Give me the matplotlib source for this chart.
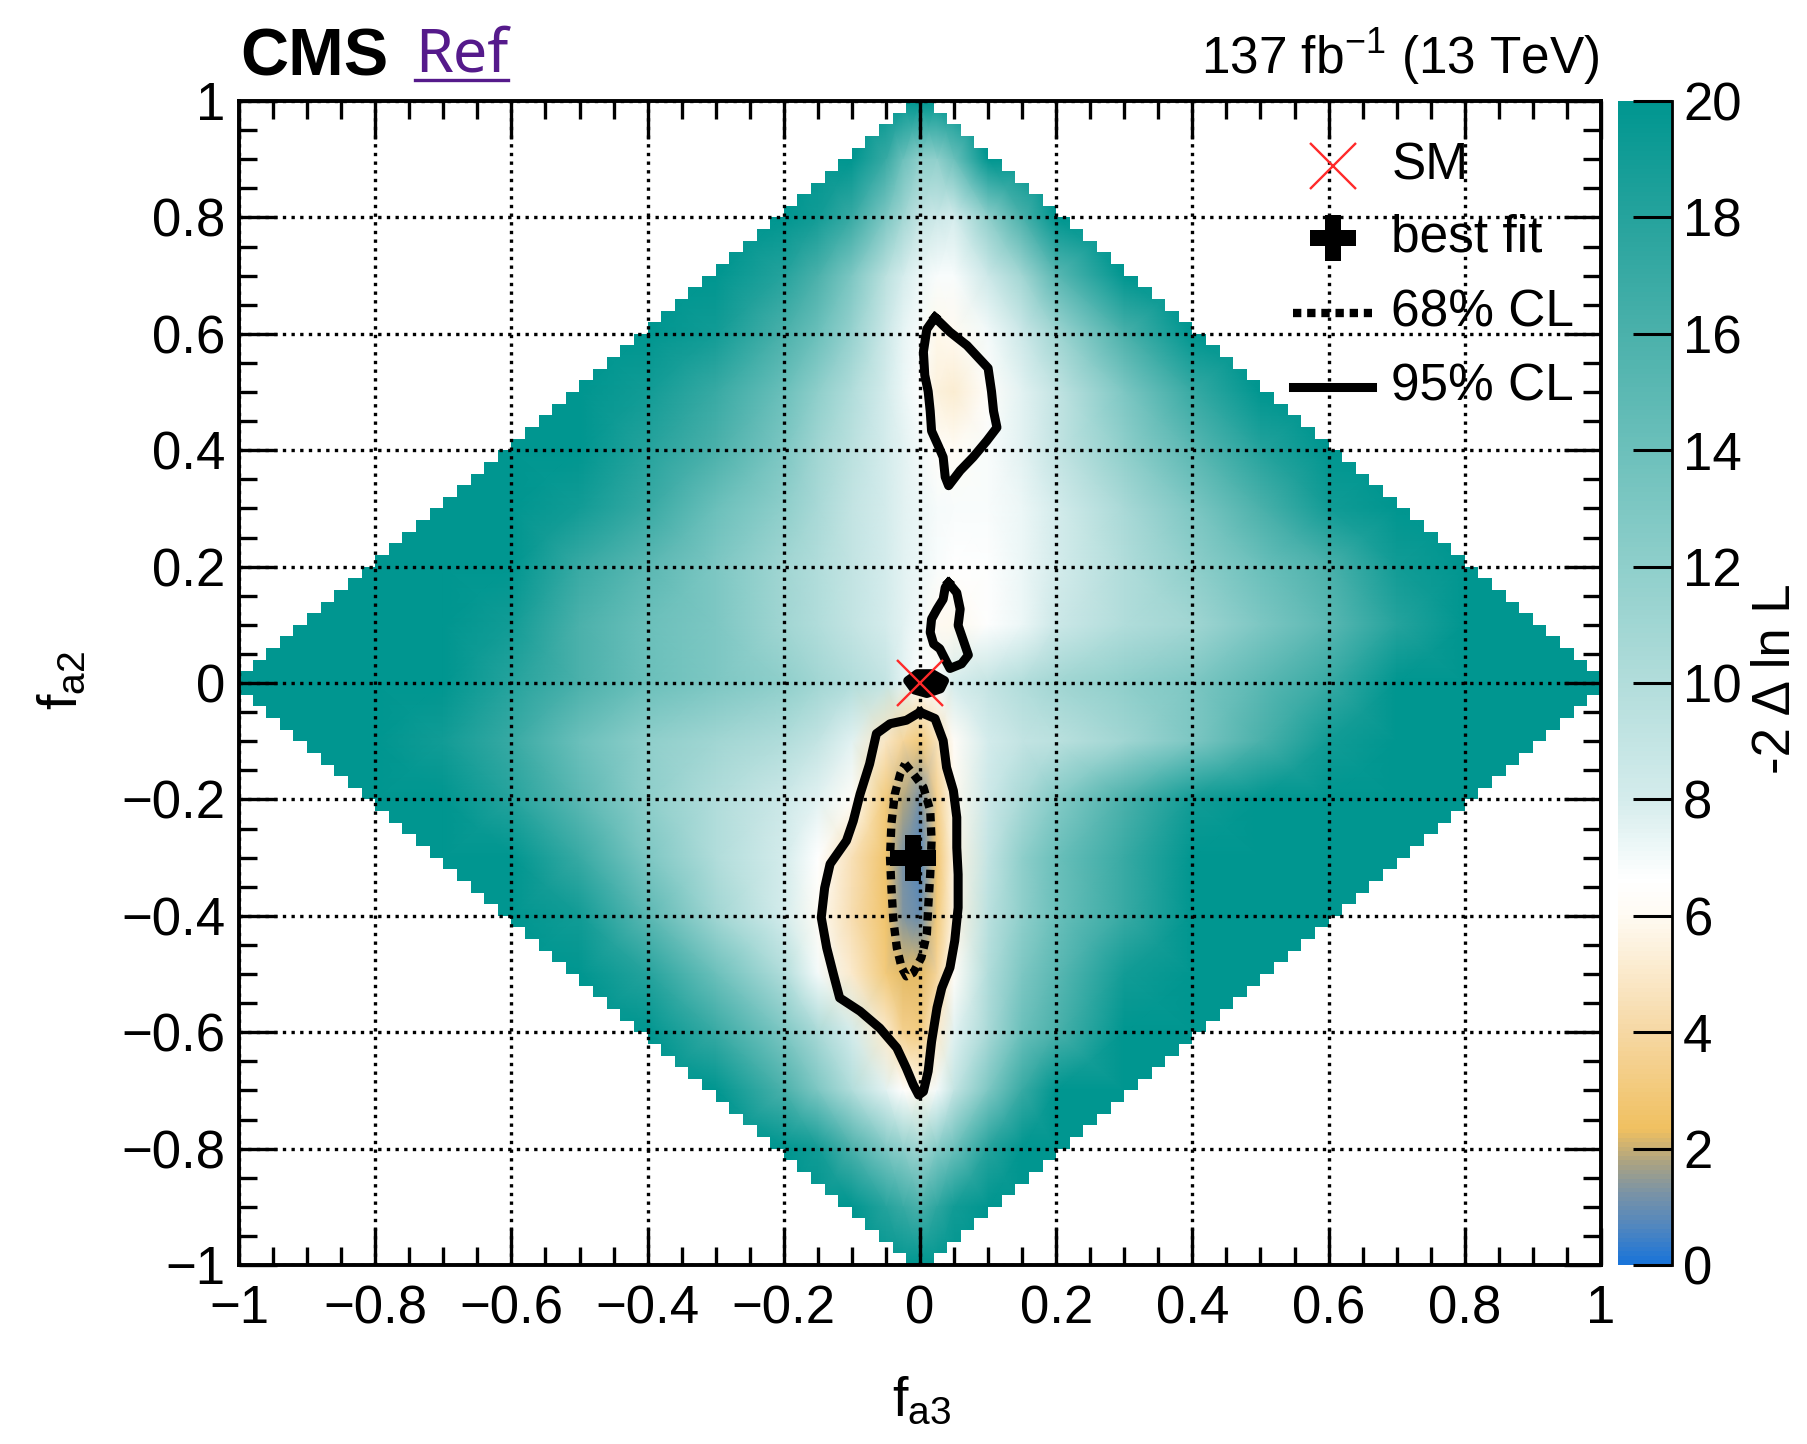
import numpy as np
import matplotlib
matplotlib.use("Agg")
import matplotlib.pyplot as plt
from matplotlib.colors import LinearSegmentedColormap, Normalize
from matplotlib.lines import Line2D
from matplotlib.ticker import MultipleLocator, FuncFormatter

plt.rcParams['font.family'] = ['Liberation Sans', 'DejaVu Sans']
plt.rcParams['mathtext.fontset'] = 'custom'
plt.rcParams['mathtext.rm'] = 'Liberation Sans'
plt.rcParams['mathtext.it'] = 'Liberation Sans:italic'
plt.rcParams['mathtext.bf'] = 'Liberation Sans:bold'

# ---------------- data ----------------
fa3_nodes = [-1.0, -0.9, -0.8, -0.7, -0.6, -0.5, -0.4, -0.3, -0.2, -0.15, -0.1, -0.05, -0.025,
             0.0, 0.025, 0.05, 0.1, 0.15, 0.2, 0.3, 0.4, 0.5, 0.6, 0.7, 0.8, 0.9, 1.0]
fa2_nodes = [1.0, 0.9, 0.8, 0.7, 0.6, 0.5, 0.4, 0.3, 0.2, 0.1, 0.0,
             -0.1, -0.2, -0.3, -0.4, -0.5, -0.6, -0.7, -0.8, -0.9, -1.0]

# -2 Delta ln L (20 = saturated), one list per fa2 row
row_p10 = [20, 20, 20, 20, 20, 20, 20, 20, 20, 20, 20, 20, 20, 20, 20, 20, 20, 20, 20, 20, 20, 20, 20, 20, 20, 20, 20]
row_p09 = [20, 20, 20, 20, 20, 20, 20, 20, 20, 20, 20, 17, 14, 12, 12, 14, 20, 20, 20, 20, 20, 20, 20, 20, 20, 20, 20]
row_p08 = [20, 20, 20, 20, 20, 20, 20, 20, 20, 19, 17, 13, 11, 9, 8.5, 8, 12, 16, 20, 20, 20, 20, 20, 20, 20, 20, 20]
row_p07 = [20, 20, 20, 20, 20, 20, 20, 20, 18, 16, 13, 9.5, 8, 7.2, 6.8, 6.8, 8.5, 11, 15, 20, 20, 20, 20, 20, 20, 20, 20]
row_p06 = [20, 20, 20, 20, 20, 20, 20, 19, 16, 14, 11.5, 8.5, 7.4, 6.8, 5.8, 6.0, 7.0, 8.5, 11, 16, 20, 20, 20, 20, 20, 20, 20]
row_p05 = [20, 20, 20, 20, 20, 20, 19, 17, 14, 12, 10, 8, 7.3, 6.7, 5.4, 5.2, 6.4, 7.5, 9, 13, 17, 20, 20, 20, 20, 20, 20]
row_p04 = [20, 20, 20, 20, 20, 20, 18, 16, 13, 11, 9.5, 8, 7.5, 7, 6.4, 6.1, 6.8, 7.5, 9, 12, 15, 18, 20, 20, 20, 20, 20]
row_p03 = [20, 20, 20, 20, 20, 19, 17, 14, 12, 10.5, 9, 8, 7.5, 7.2, 6.9, 6.8, 6.8, 7.2, 8, 10.5, 13, 16, 19, 20, 20, 20, 20]
row_p02 = [20, 20, 20, 20, 20, 17, 15, 13, 11, 10, 9, 8, 7.5, 7.2, 6.8, 6.6, 6.7, 7.2, 8, 10, 12, 14, 16, 19, 20, 20, 20]
row_p01 = [20, 20, 20, 20, 19, 16, 14, 13, 11, 10, 9, 8, 7.5, 7, 6.0, 5.9, 6.7, 7.2, 8.5, 10, 11, 13, 15, 18, 20, 20, 20]
row_000 = [20, 20, 20, 20, 18, 16, 14, 13, 12, 11, 10, 9, 7.5, 6.5, 6.8, 8, 9, 10, 11, 12, 13, 15, 17, 20, 20, 20, 20]
row_m01 = [20, 20, 20, 19, 17, 14, 12, 11, 10, 9, 7.5, 4.8, 3.8, 3.0, 4.6, 6.2, 8, 9, 9.5, 11, 13, 16, 19, 20, 20, 20, 20]
row_m02 = [20, 20, 20, 20, 18, 15, 12, 10, 8.5, 7.5, 6.3, 3.0, 1.8, 1.2, 3.5, 5.9, 8.5, 10.5, 12.5, 16, 19, 20, 20, 20, 20, 20, 20]
row_m03 = [20, 20, 20, 20, 20, 17, 13, 10, 8, 6.6, 4.5, 2.6, 1.2, 0.7, 2.8, 5.6, 9, 12, 14, 17, 20, 20, 20, 20, 20, 20, 20]
row_m04 = [20, 20, 20, 20, 20, 19, 15, 11, 8, 6.1, 4.3, 2.6, 1.3, 1.0, 3.0, 5.6, 9.5, 12, 14, 17, 20, 20, 20, 20, 20, 20, 20]
row_m05 = [20, 20, 20, 20, 20, 20, 18, 14, 10, 7, 5, 3.0, 2.2, 2.2, 3.8, 6.3, 10, 13, 15, 19, 20, 20, 20, 20, 20, 20, 20]
row_m06 = [20, 20, 20, 20, 20, 20, 20, 17, 13, 10.5, 8, 5.0, 3.5, 3.2, 5.0, 7.5, 10.5, 14, 16, 20, 20, 20, 20, 20, 20, 20, 20]
row_m07 = [20, 20, 20, 20, 20, 20, 20, 20, 16, 13, 10, 7.5, 6.5, 5.8, 7.0, 9, 13, 17, 20, 20, 20, 20, 20, 20, 20, 20, 20]
row_m08 = [20, 20, 20, 20, 20, 20, 20, 20, 20, 19, 16, 13, 12, 11, 12.5, 14, 18, 20, 20, 20, 20, 20, 20, 20, 20, 20, 20]
row_m09 = [20, 20, 20, 20, 20, 20, 20, 20, 20, 20, 20, 18, 17, 16, 17.5, 19, 20, 20, 20, 20, 20, 20, 20, 20, 20, 20, 20]
row_m10 = [20, 20, 20, 20, 20, 20, 20, 20, 20, 20, 20, 20, 20, 20, 20, 20, 20, 20, 20, 20, 20, 20, 20, 20, 20, 20, 20]

# 95% CL contours (closed outlines)
cl95_main_x = [0.000, 0.022, 0.034, 0.039, 0.049, 0.054, 0.054, 0.056, 0.056, 0.051, 0.044, 0.032,
               0.025, 0.017, 0.012, 0.005, -0.002, -0.010, -0.020, -0.034, -0.059, -0.088, -0.118,
               -0.127, -0.137, -0.145, -0.140, -0.132, -0.108, -0.098, -0.088, -0.074, -0.064,
               -0.044, -0.020]
cl95_main_y = [-0.050, -0.061, -0.099, -0.145, -0.185, -0.231, -0.283, -0.329, -0.386, -0.443,
               -0.489, -0.524, -0.558, -0.616, -0.667, -0.702, -0.708, -0.690, -0.662, -0.627,
               -0.593, -0.564, -0.541, -0.501, -0.455, -0.403, -0.352, -0.311, -0.271, -0.237,
               -0.191, -0.139, -0.087, -0.070, -0.064]
cl95_up_x = [0.022, 0.044, 0.069, 0.100, 0.105, 0.108, 0.113, 0.098, 0.078, 0.059, 0.042, 0.037,
             0.034, 0.027, 0.017, 0.015, 0.012, 0.007, 0.005, 0.010]
cl95_up_y = [0.628, 0.603, 0.580, 0.541, 0.501, 0.467, 0.439, 0.416, 0.388, 0.365, 0.339, 0.354,
             0.388, 0.407, 0.433, 0.467, 0.501, 0.529, 0.569, 0.608]
cl95_mid_x = [0.042, 0.054, 0.059, 0.056, 0.061, 0.066, 0.071, 0.061, 0.044, 0.039, 0.029, 0.020,
              0.015, 0.017, 0.025, 0.034, 0.037]
cl95_mid_y = [0.172, 0.155, 0.127, 0.099, 0.082, 0.065, 0.048, 0.033, 0.025, 0.036, 0.059, 0.067,
              0.087, 0.110, 0.127, 0.144, 0.164]
cl95_sm_x = [-0.018, -0.004, 0.018, 0.036, 0.030, 0.010, -0.008]
cl95_sm_y = [0.004, 0.016, 0.016, 0.004, -0.010, -0.018, -0.012]

# 68% CL contour
cl68_x = [-0.022, -0.010, 0.005, 0.015, 0.017, 0.015, 0.012, 0.010, 0.002, -0.010, -0.020,
          -0.027, -0.034, -0.039, -0.042, -0.044, -0.042, -0.037, -0.029]
cl68_y = [-0.139, -0.156, -0.179, -0.219, -0.271, -0.329, -0.386, -0.432, -0.472, -0.498, -0.504,
          -0.489, -0.455, -0.409, -0.352, -0.300, -0.242, -0.191, -0.156]

sm_point = (0.0, 0.0)
best_fit = (-0.01, -0.30)

cbar_ticks = [0, 2, 4, 6, 8, 10, 12, 14, 16, 18, 20]

# ---------------- style ----------------
W, H = 1808, 1444
fig = plt.figure(figsize=(W / 100, H / 100), dpi=100)
ax = fig.add_axes([239 / W, 179 / H, 1362 / W, 1164 / H])
cax = fig.add_axes([1618 / W, 179 / H, 54 / W, 1164 / H])

cmap = LinearSegmentedColormap.from_list("cms", [
    (0.0 / 20, "#1a74d8"),
    (0.6 / 20, "#4f86c0"),
    (1.2 / 20, "#7a93a6"),
    (1.7 / 20, "#a8a284"),
    (2.3 / 20, "#f0c060"),
    (4.0 / 20, "#f6d8a4"),
    (6.0 / 20, "#fffbf3"),
    (6.6 / 20, "#ffffff"),
    (8.0 / 20, "#d4ecec"),
    (10.0 / 20, "#b2dddb"),
    (12.0 / 20, "#8fcfcb"),
    (14.0 / 20, "#6cc0bb"),
    (16.0 / 20, "#4bb1ab"),
    (18.0 / 20, "#26a39d"),
    (20.0 / 20, "#009690"),
])
norm = Normalize(vmin=0, vmax=20, clip=True)

ZZ = np.array([row_p10, row_p09, row_p08, row_p07, row_p06, row_p05, row_p04, row_p03, row_p02,
               row_p01, row_000, row_m01, row_m02, row_m03, row_m04, row_m05, row_m06, row_m07,
               row_m08, row_m09, row_m10], dtype=float)
XX, YY = np.meshgrid(np.array(fa3_nodes), np.array(fa2_nodes))
ax.pcolormesh(XX, YY, ZZ, shading='gouraud', cmap=cmap, norm=norm, zorder=1)

# white mask outside the physical diamond |fa3|+|fa2|<=1 (binned like the scan)
edges = np.linspace(-1, 1, 101)
centers = 0.5 * (edges[:-1] + edges[1:])
cx, cy = np.meshgrid(centers, centers)
outside = (np.abs(cx) + np.abs(cy)) > 1.0 + 1e-9
rgba = np.ones((100, 100, 4))
rgba[..., 3] = outside.astype(float)
ax.imshow(rgba, extent=(-1, 1, -1, 1), origin='lower', interpolation='nearest',
          zorder=2, aspect='auto')

ax.set_xlim(-1, 1)
ax.set_ylim(-1, 1)


def closed(xs, ys):
    return list(xs) + [xs[0]], list(ys) + [ys[0]]


for cx_, cy_ in [(cl95_main_x, cl95_main_y), (cl95_up_x, cl95_up_y),
                 (cl95_mid_x, cl95_mid_y)]:
    px, py = closed(cx_, cy_)
    ax.plot(px, py, color='black', lw=6.5, solid_joinstyle='round', zorder=4)
px, py = closed(cl95_sm_x, cl95_sm_y)
ax.fill(px, py, color='black', lw=6.5, joinstyle='round', zorder=4)
px, py = closed(cl68_x, cl68_y)
ax.plot(px, py, color='black', lw=6.0, linestyle=(0, (1.0, 0.7)), dash_capstyle='butt', zorder=4)

ax.plot([sm_point[0]], [sm_point[1]], marker='x', ms=33, mew=1.7, color='#ff2a2a',
        linestyle='none', zorder=6)
ax.plot([best_fit[0]], [best_fit[1]], marker='P', ms=33, color='black', mew=0,
        linestyle='none', zorder=6)

# axes styling
ax.set_axisbelow(False)
ax.grid(True, which='major', color='black', linestyle=(0, (1, 1.6)), linewidth=2.4)
ax.xaxis.set_major_locator(MultipleLocator(0.2))
ax.yaxis.set_major_locator(MultipleLocator(0.2))
ax.xaxis.set_minor_locator(MultipleLocator(0.05))
ax.yaxis.set_minor_locator(MultipleLocator(0.05))


def fmt(v, pos):
    v = round(v, 3)
    if abs(v) < 1e-9:
        return "0"
    return ("%g" % v).replace("-", "\u2212")


ax.xaxis.set_major_formatter(FuncFormatter(fmt))
ax.yaxis.set_major_formatter(FuncFormatter(fmt))
ax.tick_params(which='both', direction='in', top=True, right=True, width=2.4, color='black')
ax.tick_params(which='major', length=27)
ax.tick_params(which='minor', length=13)
ax.tick_params(axis='x', labelsize=38, pad=14)
ax.tick_params(axis='y', labelsize=38, pad=10)
for s in ax.spines.values():
    s.set_linewidth(2.8)

# colorbar
sm = matplotlib.cm.ScalarMappable(norm=norm, cmap=cmap)
cb = fig.colorbar(sm, cax=cax)
cb.outline.set_visible(False)
cb.set_ticks(cbar_ticks)
cb.ax.yaxis.set_major_formatter(FuncFormatter(lambda v, p: "%d" % round(v)))
cax.minorticks_off()
cax.tick_params(direction='in', length=28, width=2.2, labelsize=38, pad=8,
                right=True, left=False, color='black')
cax.plot([1, 1], [0, 1], transform=cax.transAxes, color='black', lw=2.0, clip_on=False)

# labels
fig.text(1776 / W, 1 - 679 / H, '-2 \u0394 ln L', rotation=90, ha='center', va='center', size=38)
fig.text(922 / W, 1 - 1416 / H, r'$\mathregular{f_{a3}}$', ha='center', va='baseline', size=40)
fig.text(63 / W, 1 - 680 / H, r'$\mathregular{f_{a2}}$', rotation=90, ha='center', va='center', size=40)

fig.text(240 / W, 1 - 76 / H, 'CMS', weight='bold', size=48, ha='left', va='baseline')
ref = fig.text(415 / W, 1 - 72 / H, 'Ref', color='#551A8B', size=44, family='Noto Sans',
               ha='left', va='baseline')
fig.text(1600 / W, 1 - 74 / H, r'137 fb$^{\mathregular{-1}}$ (13 TeV)', ha='right', va='baseline', size=37)

fig.canvas.draw()
bb = ref.get_window_extent()
uy = (1 - 80 / H)
fig.add_artist(Line2D([bb.x0 / W, bb.x1 / W], [uy, uy], color='#551A8B', lw=2.4,
                      transform=fig.transFigure))

# legend (manual, ROOT-like, no frame)
lx_m, lx_t = 0.607, 0.692
ax.plot([lx_m], [0.888], marker='x', ms=33, mew=1.7, color='#ff2a2a', linestyle='none', zorder=7)
ax.text(lx_t, 0.888, 'SM', size=37, va='center', ha='left', zorder=7)
ax.plot([lx_m], [0.764], marker='P', ms=33, color='black', mew=0, linestyle='none', zorder=7)
ax.text(lx_t, 0.764, 'best fit', size=37, va='center', ha='left', zorder=7)
ax.plot([0.548, 0.664], [0.636, 0.636], color='black', lw=6.0, linestyle=(0, (1.0, 0.7)),
        dash_capstyle='butt', zorder=7)
ax.text(lx_t, 0.636, '68% CL', size=37, va='center', ha='left', zorder=7)
ax.plot([0.548, 0.664], [0.508, 0.508], color='black', lw=6.5, zorder=7)
ax.text(lx_t, 0.508, '95% CL', size=37, va='center', ha='left', zorder=7)

fig.savefig('out.png', dpi=100)
